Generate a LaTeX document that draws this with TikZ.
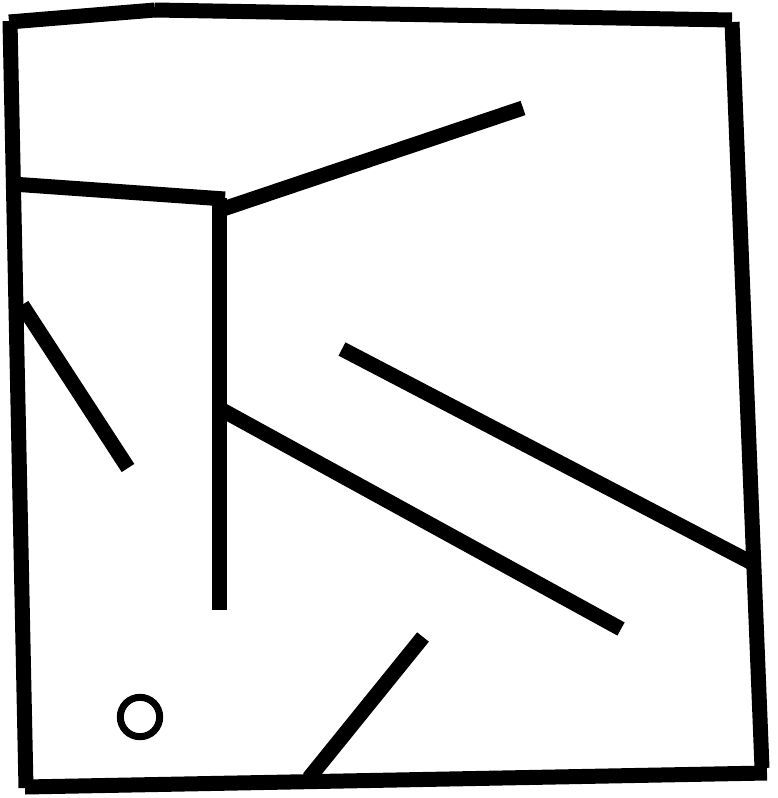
\documentclass[tikz,border=0pt]{standalone}
\begin{document}
\begin{tikzpicture}[x=1pt,y=-1pt,
  wall/.style={line width=15pt,line cap=butt,black},
  ring/.style={line width=7pt,black}]
\useasboundingbox (0,0) rectangle (777,798);
% outer boundary
\coordinate (tm) at (155,10);
\draw[wall] (9,22) -- (tm);
\draw[wall] (tm) -- (732,20);
\draw[wall] (10,21) -- (26,788);
\draw[wall] (732,22) -- (762,768);
\draw[wall] (25,787) -- (767,773);
% inner walls
\draw[wall] (12,184) -- (225,199);
\draw[wall] (219,198) -- (219,610);
\draw[wall] (220,210) -- (523,108);
\draw[wall] (222,410) -- (621,629);
\draw[wall] (342,349) -- (754,564);
\draw[wall] (22,305) -- (128,468);
\draw[wall] (309,778) -- (423,637);
% small circle
\draw[ring] (140,717) circle (19.7);
\end{tikzpicture}
\end{document}
